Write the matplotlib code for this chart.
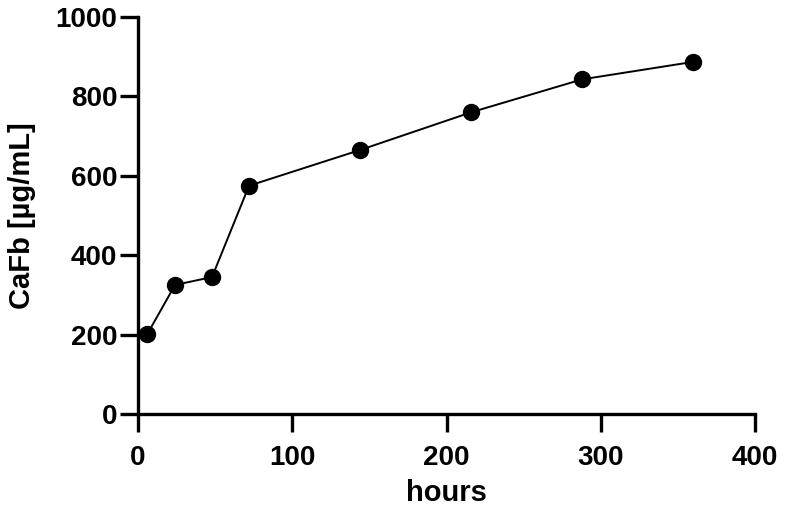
import matplotlib.pyplot as plt

hours = [6, 24, 48, 72, 144, 216, 288, 360]
cafb = [201, 325, 345, 575, 665, 760, 843, 887]

x_ticks = [0, 100, 200, 300, 400]
y_ticks = [0, 200, 400, 600, 800, 1000]

plt.rcParams["font.family"] = ["Liberation Sans", "DejaVu Sans"]
plt.rcParams["font.weight"] = "bold"

fig = plt.figure(figsize=(7.87, 5.11), dpi=100)
ax = fig.add_axes([138 / 787, 1 - 414 / 511, (755 - 138) / 787, (414 - 17) / 511])

ax.plot(hours, cafb, color="black", linewidth=1.4, marker="o",
        markersize=11.5, clip_on=False)

ax.set_xlim(0, 400)
ax.set_ylim(0, 1000)
ax.set_xticks(x_ticks)
ax.set_yticks(y_ticks)
ax.set_xlabel("hours", fontsize=21, fontweight="bold", labelpad=6)
ax.set_ylabel("CaFb [µg/mL]", fontsize=21, fontweight="bold", labelpad=14)

for side in ["top", "right"]:
    ax.spines[side].set_visible(False)
for side in ["left", "bottom"]:
    ax.spines[side].set_linewidth(2.4)
ax.tick_params(width=2.4, length=13, labelsize=20, pad=2)
ax.tick_params(axis="x", pad=9)
for lbl in ax.get_xticklabels() + ax.get_yticklabels():
    lbl.set_fontweight("bold")

fig.savefig("out.png", dpi=100)
